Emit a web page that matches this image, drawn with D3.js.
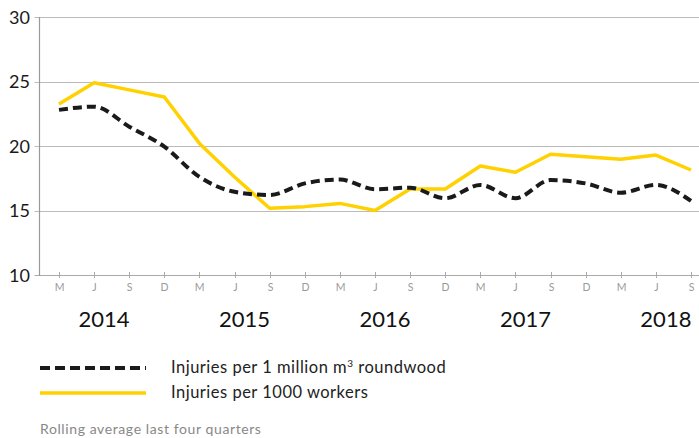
<!DOCTYPE html>
<html lang="en">
<head>
<meta charset="UTF-8">
<title>Injuries - rolling average</title>
<script src="https://cdn.jsdelivr.net/npm/d3@7"></script>
<style>
body { margin: 0; background: #fff; }
svg { font-family: Lato, sans-serif; display: block; }
</style>
</head>
<body>
<div id="chart"></div>
<script>
// quarter labels along the x axis (month of quarter end)
const quarters = ["M", "J", "S", "D", "M", "J", "S", "D", "M", "J", "S", "D",
                  "M", "J", "S", "D", "M", "J", "S"];
const years = [2014, 2015, 2016, 2017, 2018];
// index of the "J" quarter each year label sits near
const yearAnchor = [1, 5, 9, 13, 17];

const roundwood = [22.8, 23.05, 21.5, 19.95, 17.6, 16.45, 16.2, 17.1, 17.4, 16.65,
                   16.77, 15.95, 16.98, 15.95, 17.36, 17.1, 16.38, 16.98, 15.74];
const workers = [23.26, 24.9, 24.35, 23.8, 20.2, 17.6, 15.17, 15.3, 15.55, 15.0,
                 16.67, 16.67, 18.45, 17.96, 19.36, 19.17, 18.97, 19.3, 18.14];

const yTicks = [10, 15, 20, 25, 30];

const WIDTH = 699;
const HEIGHT = 438;
const YELLOW = "#ffd100";

const svg = d3.select("#chart").append("svg")
    .attr("width", WIDTH)
    .attr("height", HEIGHT);

const x = d3.scalePoint()
    .domain(d3.range(quarters.length))
    .range([59, 691]);

const y = d3.scaleLinear()
    .domain([10, 30])
    .range([275, 17]);

const AXIS_X = 39.5;

// grid lines
svg.append("g")
    .selectAll("line")
    .data(yTicks)
    .join("line")
    .attr("x1", AXIS_X - 5)
    .attr("x2", WIDTH)
    .attr("y1", d => Math.round(y(d)) + 0.5)
    .attr("y2", d => Math.round(y(d)) + 0.5)
    .attr("stroke", d => d == 10 ? "#aaa" : "#bbb")
    .attr("stroke-width", 1.2);

// y axis line
svg.append("line")
    .attr("x1", AXIS_X).attr("x2", AXIS_X)
    .attr("y1", y(30)).attr("y2", y(10) + 1)
    .attr("stroke", "#999")
    .attr("stroke-width", 1.2);

svg.append("g")
    .selectAll("text")
    .data(yTicks)
    .join("text")
    .attr("x", 30)
    .attr("y", d => y(d) + 6.5)
    .attr("text-anchor", "end")
    .attr("font-size", 18)
    .attr("fill", "#1a1a1a")
    .text(d => d);

// x ticks
const xt = svg.append("g")
    .selectAll("g")
    .data(quarters)
    .join("g")
    .attr("transform", (d, i) => `translate(${Math.round(x(i)) + 0.5},0)`);
xt.append("line")
    .attr("y1", y(10) - 3).attr("y2", y(10) + 3)
    .attr("stroke", "#aaa");
xt.append("text")
    .attr("y", 291)
    .attr("text-anchor", "middle")
    .attr("font-size", 10.5)
    .attr("fill", "#9a9a9a")
    .text(d => d);

svg.append("g")
    .selectAll("text")
    .data(years)
    .join("text")
    .attr("x", (d, i) => x(yearAnchor[i]) + 10)
    .attr("y", 327)
    .attr("text-anchor", "middle")
    .attr("font-size", 22)
    .attr("fill", "#111")
    .text(d => d);

// series lines
const lineLinear = d3.line()
    .x((d, i) => x(i))
    .y(d => y(d));
const lineSmooth = d3.line()
    .x((d, i) => x(i))
    .y(d => y(d))
    .curve(d3.curveMonotoneX);

svg.append("path")
    .datum(workers)
    .attr("d", lineLinear)
    .attr("fill", "none")
    .attr("stroke", YELLOW)
    .attr("stroke-width", 3.5)
    .attr("stroke-linejoin", "round");

svg.append("path")
    .datum(roundwood)
    .attr("d", lineSmooth)
    .attr("fill", "none")
    .attr("stroke", "#1a1a1a")
    .attr("stroke-width", 4)
    .attr("stroke-dasharray", "9,5");

// legend
const legend = svg.append("g");
legend.append("line")
    .attr("x1", 40).attr("x2", 146)
    .attr("y1", 368).attr("y2", 368)
    .attr("stroke", "#1a1a1a")
    .attr("stroke-width", 4)
    .attr("stroke-dasharray", "10,5");
legend.append("line")
    .attr("x1", 40).attr("x2", 146)
    .attr("y1", 393).attr("y2", 393)
    .attr("stroke", YELLOW)
    .attr("stroke-width", 3.5);

const t1 = legend.append("text")
    .attr("x", 171).attr("y", 373)
    .attr("font-size", 16.5)
    .attr("letter-spacing", 0.5)
    .attr("fill", "#222");
t1.append("tspan").text("Injuries per 1 million m");
t1.append("tspan").attr("dy", -6).attr("font-size", 10).text("3");
t1.append("tspan").attr("dy", 6).text(" roundwood");

legend.append("text")
    .attr("x", 171).attr("y", 398)
    .attr("font-size", 16.5)
    .attr("letter-spacing", 0.5)
    .attr("fill", "#222")
    .text("Injuries per 1000 workers");

svg.append("text")
    .attr("x", 40).attr("y", 434)
    .attr("font-size", 14)
    .attr("letter-spacing", 0.6)
    .attr("fill", "#888")
    .text("Rolling average last four quarters");
</script>
</body>
</html>
